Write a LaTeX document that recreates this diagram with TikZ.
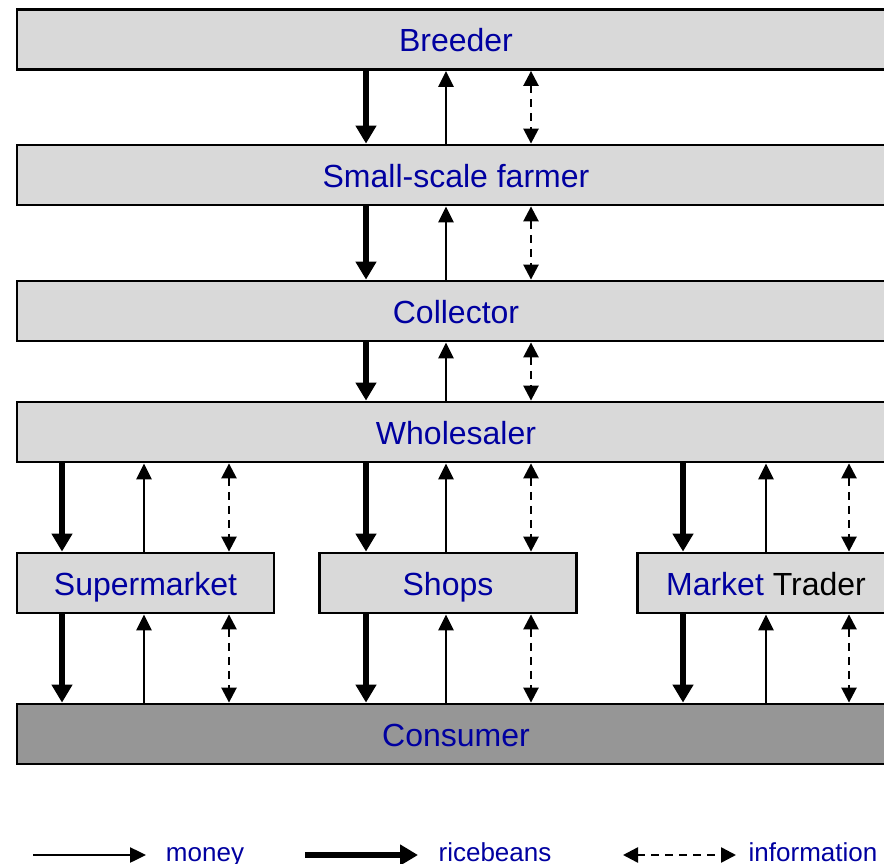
\documentclass[tikz,border=0pt]{standalone}
\usepackage{fontspec}
\setmainfont{Liberation Sans}
\usetikzlibrary{arrows.meta,positioning}
\usepackage{xcolor}
\definecolor{boxgrey}{RGB}{217,217,217}
\definecolor{consgrey}{RGB}{150,150,150}
\definecolor{labelblue}{RGB}{0,0,160}

\begin{document}
\begin{tikzpicture}[
  x=1pt, y=-1pt,
  level/.style={rectangle, draw, line width=2.8pt, fill=boxgrey, minimum width=878pt, minimum height=60pt, inner sep=0pt, text height=24pt, text depth=0pt, text=labelblue, font=\fontsize{32}{38}\selectfont},
  outlet/.style={level, minimum width=257pt},
  ricebeans/.style={line width=6pt, -{Triangle[width=20pt,length=18pt]}},
  money/.style={line width=2.5pt, -{Triangle[width=15pt,length=16pt]}},
  info/.style={line width=2.5pt, dash pattern=on 8pt off 6pt, {Triangle[width=15pt,length=15pt]}-{Triangle[width=15pt,length=15pt]}},
  legend/.style={anchor=base, text=labelblue, font=\fontsize{26}{30}\selectfont}
]
\useasboundingbox (0,0) rectangle (884,864);
\clip (0,0) rectangle (884,864);

% ==================
% Chain levels
% ==================
\node[level] (breeder) at (456,39.5) {Breeder};
\node[level] (farmer) at (456,175) {Small-scale farmer};
\node[level] (collector) at (456,311) {Collector};
\node[level] (wholesaler) at (456,432) {Wholesaler};
\node[level, fill=consgrey] (consumer) at (456,734) {Consumer};

% ==================
% Outlets
% ==================
\node[outlet] (supermarket) at (145.5,583) {Supermarket};
\node[outlet] (shops) at (448,583) {Shops};
\node[outlet] (trader) at (766,583) {Market \textcolor{black}{Trader}};

% ==================
% Arrow columns
% ==================
\coordinate (r1) at (366,0);
\coordinate (m1) at (446,0);
\coordinate (i1) at (531,0);
\coordinate (r2) at (62,0);
\coordinate (m2) at (144,0);
\coordinate (i2) at (229,0);
\coordinate (r3) at (683,0);
\coordinate (m3) at (766,0);
\coordinate (i3) at (849,0);

% Breeder -- farmer
\draw[ricebeans] (breeder.south -| r1) -- (farmer.north -| r1);
\draw[money] (farmer.north -| m1) -- (breeder.south -| m1);
\draw[info] (breeder.south -| i1) -- (farmer.north -| i1);

% Farmer -- collector
\draw[ricebeans] (farmer.south -| r1) -- (collector.north -| r1);
\draw[money] (collector.north -| m1) -- (farmer.south -| m1);
\draw[info] (farmer.south -| i1) -- (collector.north -| i1);

% Collector -- wholesaler
\draw[ricebeans] (collector.south -| r1) -- (wholesaler.north -| r1);
\draw[money] (wholesaler.north -| m1) -- (collector.south -| m1);
\draw[info] (collector.south -| i1) -- (wholesaler.north -| i1);

% Wholesaler -- outlets
\draw[ricebeans] (wholesaler.south -| r2) -- (supermarket.north -| r2);
\draw[money] (supermarket.north -| m2) -- (wholesaler.south -| m2);
\draw[info] (wholesaler.south -| i2) -- (supermarket.north -| i2);

\draw[ricebeans] (wholesaler.south -| r1) -- (shops.north -| r1);
\draw[money] (shops.north -| m1) -- (wholesaler.south -| m1);
\draw[info] (wholesaler.south -| i1) -- (shops.north -| i1);

\draw[ricebeans] (wholesaler.south -| r3) -- (trader.north -| r3);
\draw[money] (trader.north -| m3) -- (wholesaler.south -| m3);
\draw[info] (wholesaler.south -| i3) -- (trader.north -| i3);

% Outlets -- consumer
\draw[ricebeans] (supermarket.south -| r2) -- (consumer.north -| r2);
\draw[money] (consumer.north -| m2) -- (supermarket.south -| m2);
\draw[info] (supermarket.south -| i2) -- (consumer.north -| i2);

\draw[ricebeans] (shops.south -| r1) -- (consumer.north -| r1);
\draw[money] (consumer.north -| m1) -- (shops.south -| m1);
\draw[info] (shops.south -| i1) -- (consumer.north -| i1);

\draw[ricebeans] (trader.south -| r3) -- (consumer.north -| r3);
\draw[money] (consumer.north -| m3) -- (trader.south -| m3);
\draw[info] (trader.south -| i3) -- (consumer.north -| i3);

% ==================
% Legend
% ==================
\coordinate (lm0) at (33,855);
\coordinate (lm1) at (146,855);
\coordinate (lr0) at (305,855);
\coordinate (lr1) at (418,855);
\coordinate (li0) at (623,855);
\coordinate (li1) at (736,855);
\draw[money] (lm0) -- (lm1);
\draw[ricebeans] (lr0) -- (lr1);
\draw[info] (li0) -- (li1);
\node[legend] (lmoney) at (205,861) {money};
\node[legend] (lrice) at (495,861) {ricebeans};
\node[legend] (linfo) at (813,861) {information};
\end{tikzpicture}
\end{document}
